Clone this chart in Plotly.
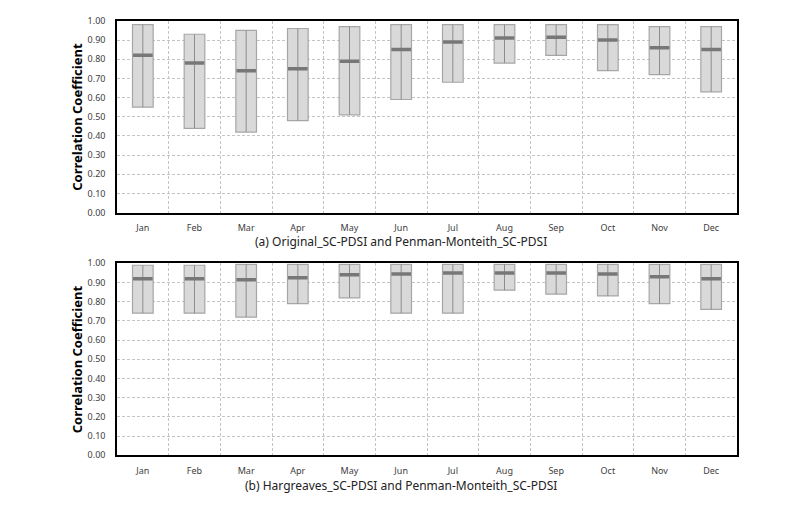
import plotly.graph_objects as go

months = ["Jan", "Feb", "Mar", "Apr", "May", "Jun", "Jul", "Aug", "Sep", "Oct", "Nov", "Dec"]

# (a) Original_SC-PDSI vs Penman-Monteith_SC-PDSI
a_max = [0.98, 0.93, 0.95, 0.96, 0.97, 0.98, 0.98, 0.98, 0.98, 0.98, 0.97, 0.97]
a_min = [0.55, 0.44, 0.42, 0.48, 0.51, 0.59, 0.68, 0.78, 0.82, 0.74, 0.72, 0.63]
a_mid = [0.82, 0.78, 0.74, 0.75, 0.79, 0.85, 0.89, 0.91, 0.915, 0.90, 0.86, 0.85]

# (b) Hargreaves_SC-PDSI vs Penman-Monteith_SC-PDSI
b_max = [0.99, 0.99, 0.995, 0.995, 0.995, 0.995, 0.995, 0.995, 0.995, 0.995, 0.995, 0.995]
b_min = [0.74, 0.74, 0.72, 0.79, 0.82, 0.74, 0.74, 0.86, 0.84, 0.83, 0.79, 0.76]
b_mid = [0.92, 0.92, 0.915, 0.925, 0.94, 0.945, 0.95, 0.95, 0.95, 0.945, 0.93, 0.92]

captions = ["(a) Original_SC-PDSI and Penman-Monteith_SC-PDSI",
            "(b) Hargreaves_SC-PDSI and Penman-Monteith_SC-PDSI"]
y_title = "Correlation Coefficient"
y_ticks = [i / 10 for i in range(11)]

FONT = "Noto Sans"
W, H = 792, 498   # page body has an 8px margin; positions below are in figure pixels
OFF = 8
x_pos = list(range(len(months)))

fig = go.Figure()


def add_panel(mins, maxs, mids, xa, ya):
    fig.add_trace(go.Bar(
        x=x_pos, base=mins, y=[hi - lo for hi, lo in zip(maxs, mins)],
        width=0.4, marker=dict(color="#d9d9d9", line=dict(color="#a6a6a6", width=1.2)),
        xaxis=xa, yaxis=ya, showlegend=False, hoverinfo="skip"))
    lx, ly = [], []
    for x, lo, hi in zip(x_pos, mins, maxs):
        lx += [x, x, None]
        ly += [lo, hi, None]
    fig.add_trace(go.Scatter(x=lx, y=ly, mode="lines", line=dict(color="#8c8c8c", width=1),
                             xaxis=xa, yaxis=ya, showlegend=False, hoverinfo="skip"))
    fig.add_trace(go.Scatter(x=x_pos, y=mids, mode="markers",
                             marker=dict(symbol="line-ew", size=14,
                                         line=dict(color="#777777", width=3.5)),
                             xaxis=xa, yaxis=ya, showlegend=False, hoverinfo="skip"))


add_panel(a_min, a_max, a_mid, "x", "y")
add_panel(b_min, b_max, b_mid, "x2", "y2")


def px_x(v):
    return (v - OFF) / W


def px_y(v):
    return 1 - (v - OFF) / H


xdom = [px_x(117), px_x(737)]
ydom_top = [px_y(211), px_y(14)]
ydom_bot = [px_y(460), px_y(263)]

GRID = "#c4c4c4"
xaxis_common = dict(
    domain=xdom, range=[-0.5, 11.5], tickvals=x_pos, ticktext=months,
    showgrid=False, zeroline=False, showline=True, linecolor="black", linewidth=1.5,
    mirror=True, ticks="", ticklabelstandoff=6,
    tickfont=dict(family=FONT, size=9, color="#404040"),
    minor=dict(tickvals=[i + 0.5 for i in range(11)], showgrid=True,
               gridcolor=GRID, griddash="3px,2px", gridwidth=1, ticks=""),
)
yaxis_common = dict(
    range=[0, 1.0], tickvals=y_ticks, ticktext=[f"{v:.2f}" for v in y_ticks],
    showgrid=True, gridcolor=GRID, griddash="3px,2px", gridwidth=1,
    zeroline=False, showline=True, linecolor="black", linewidth=1.5, mirror=True,
    ticks="", ticklabelstandoff=8,
    tickfont=dict(family=FONT, size=9, color="#404040"),
)

fig.update_layout(
    width=W, height=H, margin=dict(l=0, r=0, t=0, b=0),
    paper_bgcolor="white", plot_bgcolor="white", barmode="overlay",
    xaxis=dict(anchor="y", **xaxis_common),
    yaxis=dict(anchor="x", domain=ydom_top, **yaxis_common),
    xaxis2=dict(anchor="y2", **xaxis_common),
    yaxis2=dict(anchor="x2", domain=ydom_bot, **yaxis_common),
)

for cap, ypx in zip(captions, [241, 491]):
    fig.add_annotation(text=cap, x=px_x(401), y=px_y(ypx), xref="paper", yref="paper",
                       showarrow=False, xanchor="center", yanchor="middle",
                       font=dict(family=FONT, size=12, color="#222222"))

for dom in [ydom_top, ydom_bot]:
    fig.add_annotation(text=f"<b>{y_title}</b>", x=px_x(77), y=(dom[0] + dom[1]) / 2,
                       xref="paper", yref="paper", showarrow=False, textangle=-90,
                       xanchor="center", yanchor="middle",
                       font=dict(family=FONT, size=13, color="black"))

fig.write_html("out.html")
